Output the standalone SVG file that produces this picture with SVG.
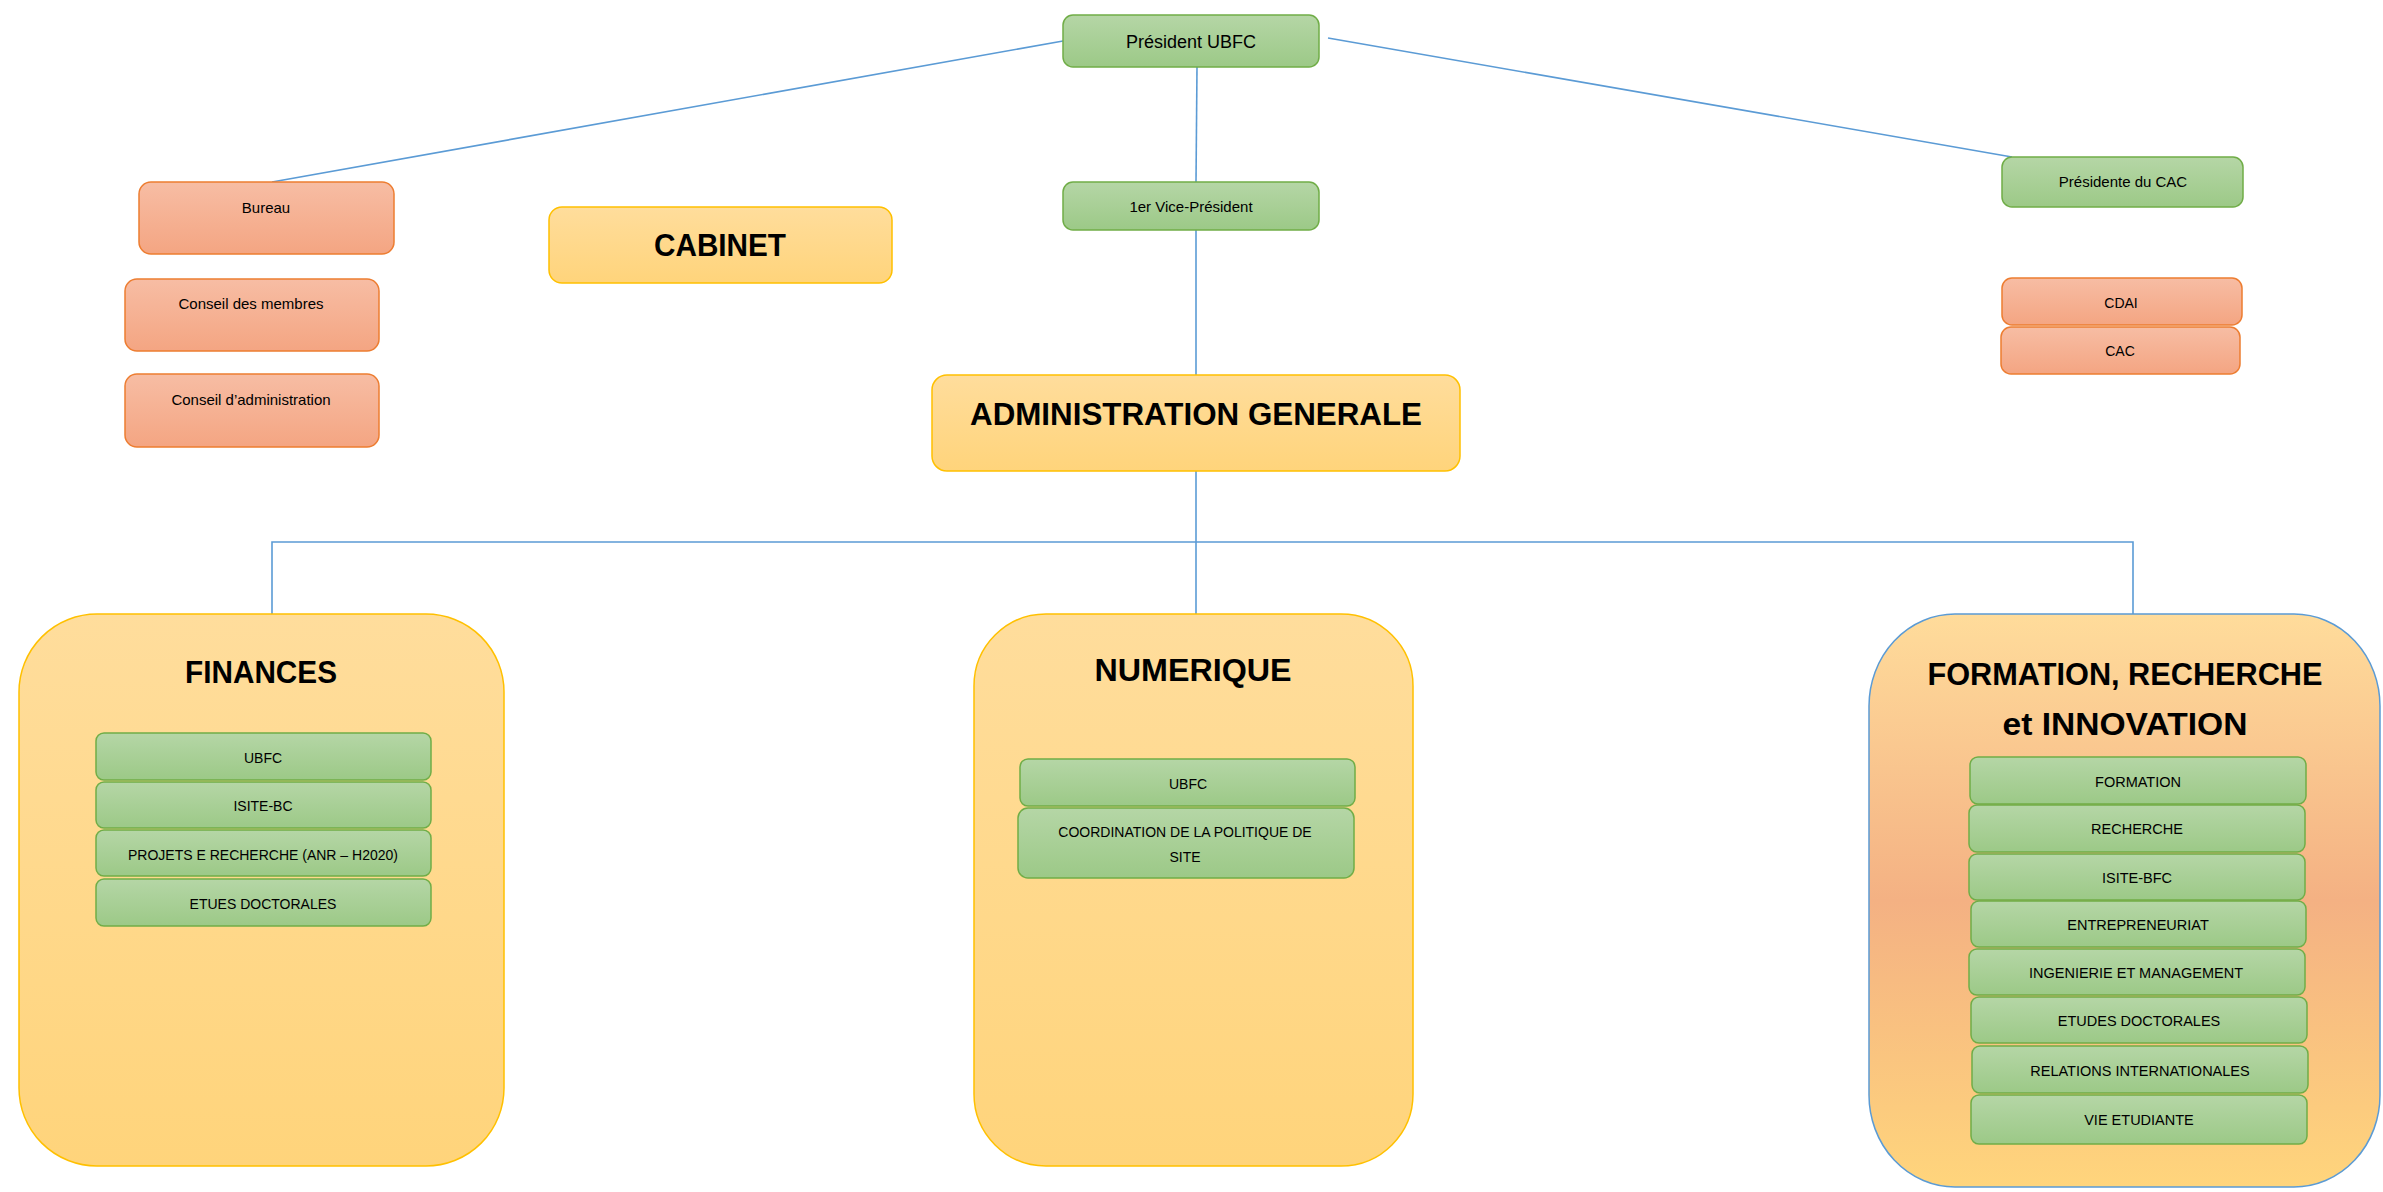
<svg xmlns="http://www.w3.org/2000/svg" width="2383" height="1192" viewBox="0 0 2383 1192">
<defs>
<linearGradient id="gGreen" x1="0" y1="0" x2="0" y2="1"><stop offset="0" stop-color="#B5D6A6"/><stop offset="1" stop-color="#9CC987"/></linearGradient>
<linearGradient id="gOrange" x1="0" y1="0" x2="0" y2="1"><stop offset="0" stop-color="#F7BDA4"/><stop offset="1" stop-color="#F4A582"/></linearGradient>
<linearGradient id="gYellow" x1="0" y1="0" x2="0" y2="1"><stop offset="0" stop-color="#FFDD9C"/><stop offset="1" stop-color="#FFD47B"/></linearGradient>
<linearGradient id="gFri" x1="0" y1="0" x2="0" y2="1"><stop offset="0" stop-color="#FFDC9B"/><stop offset="0.5" stop-color="#F4B183"/><stop offset="1" stop-color="#FFD57C"/></linearGradient>
<style>
.green{fill:url(#gGreen);stroke:#70AD47;stroke-width:1.5}
.orange{fill:url(#gOrange);stroke:#ED7D31;stroke-width:1.5}
.yellow{fill:url(#gYellow);stroke:#FFC000;stroke-width:1.5}
.fri{fill:url(#gFri);stroke:#5B9BD5;stroke-width:1.5}
.conn{stroke:#5B9BD5;stroke-width:1.6;fill:none}
text{font-family:"Liberation Sans",Arial,sans-serif;fill:#000;text-anchor:middle}
.s{font-size:15px}
.m{font-size:18px}
.i{font-size:14px}
.f{font-size:14.5px}
.t{font-size:31px;font-weight:bold}
</style>
</defs>
<g id="connectors">
<line class="conn" x1="1063" y1="41" x2="272" y2="182"/>
<line class="conn" x1="1328" y1="38" x2="2012" y2="157"/>
<line class="conn" x1="1197" y1="67" x2="1196" y2="182"/>
<line class="conn" x1="1196" y1="230" x2="1196" y2="375"/>
<line class="conn" x1="1196" y1="471" x2="1196" y2="614"/>
<polyline class="conn" points="272,614 272,542 2133,542 2133,614"/>
</g>
<g id="president">
<rect class="green" x="1063" y="15" width="256" height="52" rx="10"/>
<text class="m" x="1191" y="48">Président UBFC</text>
</g>
<g id="vice-president">
<rect class="green" x="1063" y="182" width="256" height="48" rx="10"/>
<text class="s" x="1191" y="212">1er Vice-Président</text>
</g>
<g id="presidente-cac">
<rect class="green" x="2002" y="157" width="241" height="50" rx="10"/>
<text class="s" x="2123" y="187">Présidente du CAC</text>
</g>
<g id="cdai">
<rect class="orange" x="2002" y="278" width="240" height="47" rx="10"/>
<text class="i" x="2121" y="308">CDAI</text>
</g>
<g id="cac">
<rect class="orange" x="2001" y="327" width="239" height="47" rx="10"/>
<text class="i" x="2120" y="356">CAC</text>
</g>
<g id="bureau">
<rect class="orange" x="139" y="182" width="255" height="72" rx="12"/>
<text class="s" x="266" y="213">Bureau</text>
</g>
<g id="conseil-membres">
<rect class="orange" x="125" y="279" width="254" height="72" rx="12"/>
<text class="s" x="251" y="309">Conseil des membres</text>
</g>
<g id="conseil-administration">
<rect class="orange" x="125" y="374" width="254" height="73" rx="12"/>
<text class="s" x="251" y="405">Conseil d’administration</text>
</g>
<g id="cabinet">
<rect class="yellow" x="549" y="207" width="343" height="76" rx="13"/>
<text class="t" x="720" y="256" textLength="132" lengthAdjust="spacingAndGlyphs">CABINET</text>
</g>
<g id="administration-generale">
<rect class="yellow" x="932" y="375" width="528" height="96" rx="15"/>
<text class="t" x="1196" y="425" textLength="452" lengthAdjust="spacingAndGlyphs">ADMINISTRATION GENERALE</text>
</g>
<g id="finances">
<rect class="yellow" x="19" y="614" width="485" height="552" rx="78"/>
<text class="t" x="261" y="683" textLength="152" lengthAdjust="spacingAndGlyphs">FINANCES</text>
<g id="fin-ubfc"><rect class="green" x="96" y="733" width="335" height="47" rx="8"/><text class="i" x="263" y="763">UBFC</text></g>
<g id="fin-isite"><rect class="green" x="96" y="782" width="335" height="46" rx="8"/><text class="i" x="263" y="811">ISITE-BC</text></g>
<g id="fin-projets"><rect class="green" x="96" y="830" width="335" height="46" rx="8"/><text class="i" x="263" y="860">PROJETS E RECHERCHE (ANR – H2020)</text></g>
<g id="fin-etues"><rect class="green" x="96" y="879" width="335" height="47" rx="8"/><text class="i" x="263" y="909">ETUES DOCTORALES</text></g>
</g>
<g id="numerique">
<rect class="yellow" x="974" y="614" width="439" height="552" rx="72"/>
<text class="t" x="1193" y="681" textLength="197" lengthAdjust="spacingAndGlyphs">NUMERIQUE</text>
<g id="num-ubfc"><rect class="green" x="1020" y="759" width="335" height="47" rx="8"/><text class="i" x="1188" y="789">UBFC</text></g>
<g id="num-coordination"><rect class="green" x="1018" y="808" width="336" height="70" rx="10"/><text class="i" x="1185" y="837">COORDINATION DE LA POLITIQUE DE</text><text class="i" x="1185" y="862">SITE</text></g>
</g>
<g id="formation-recherche-innovation">
<rect class="fri" x="1869" y="614" width="511" height="573" rx="86" ry="92"/>
<text class="t" x="2125" y="685" textLength="395" lengthAdjust="spacingAndGlyphs">FORMATION, RECHERCHE</text>
<text class="t" x="2125" y="735" textLength="245" lengthAdjust="spacingAndGlyphs">et INNOVATION</text>
<g id="fri-formation"><rect class="green" x="1970" y="757" width="336" height="47" rx="8"/><text class="f" x="2138" y="787">FORMATION</text></g>
<g id="fri-recherche"><rect class="green" x="1969" y="805" width="336" height="47" rx="8"/><text class="f" x="2137" y="834">RECHERCHE</text></g>
<g id="fri-isite"><rect class="green" x="1969" y="854" width="336" height="46" rx="8"/><text class="f" x="2137" y="883">ISITE-BFC</text></g>
<g id="fri-entrepreneuriat"><rect class="green" x="1971" y="901" width="335" height="46" rx="8"/><text class="f" x="2138" y="930">ENTREPRENEURIAT</text></g>
<g id="fri-ingenierie"><rect class="green" x="1969" y="949" width="336" height="46" rx="8"/><text class="f" x="2136" y="978">INGENIERIE ET MANAGEMENT</text></g>
<g id="fri-etudes"><rect class="green" x="1971" y="997" width="336" height="46" rx="8"/><text class="f" x="2139" y="1026">ETUDES DOCTORALES</text></g>
<g id="fri-relations"><rect class="green" x="1972" y="1046" width="336" height="47" rx="8"/><text class="f" x="2140" y="1076">RELATIONS INTERNATIONALES</text></g>
<g id="fri-vie"><rect class="green" x="1971" y="1095" width="336" height="49" rx="8"/><text class="f" x="2139" y="1125">VIE ETUDIANTE</text></g>
</g>
</svg>
